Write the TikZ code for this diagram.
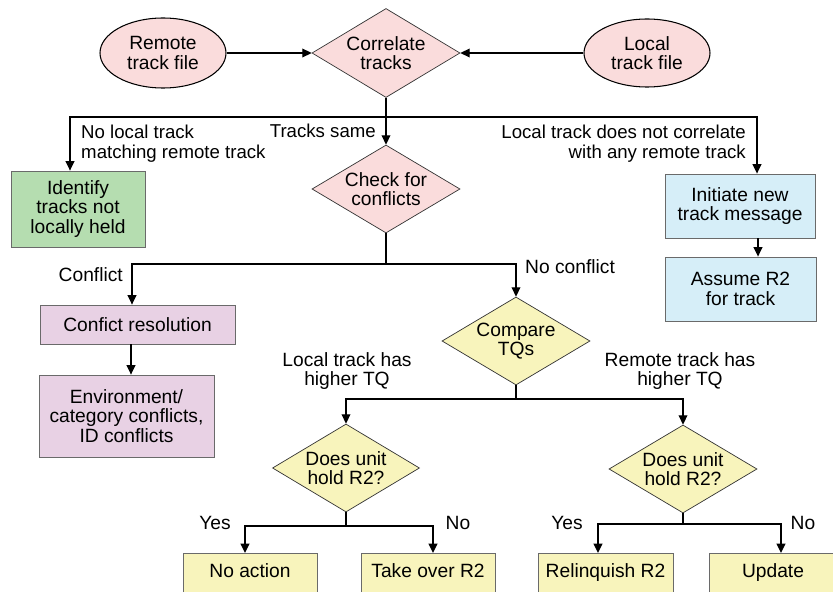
\documentclass[tikz,border=0pt]{standalone}
\usepackage{fontspec}
\setmainfont{Liberation Sans}
\usetikzlibrary{shapes.geometric,arrows.meta}
\definecolor{pinkf}{HTML}{FADCDC}
\definecolor{greenf}{HTML}{B5DDB0}
\definecolor{bluef}{HTML}{D6EEF8}
\definecolor{purplef}{HTML}{E8D1E4}
\definecolor{yellowf}{HTML}{F8F4BC}
\definecolor{edgegray}{HTML}{6A6A6A}
\begin{document}
\begin{tikzpicture}[x=0.03cm,y=-0.03cm,
  every node/.style={font=\fontsize{16.4pt}{16.8pt}\selectfont},
  arr/.style={-{Triangle[length=8pt,width=7.5pt]}, line width=1.1pt},
  ln/.style={line width=1.1pt},
  oval/.style={ellipse, draw=black, line width=0.9pt, fill=pinkf, inner sep=0pt, align=center},
  dia/.style={diamond, draw=black!80, line width=0.6pt, inner sep=0pt, aspect=1.68, align=center, minimum width=4.44cm, minimum height=2.64cm},
  boxn/.style={rectangle, draw=edgegray, line width=0.7pt, inner sep=0pt, align=center},
  lab/.style={inner sep=0pt, font=\fontsize{15.9pt}{16.8pt}\selectfont},
  slab/.style={inner sep=0pt, font=\fontsize{16.4pt}{16.8pt}\selectfont}
]
\useasboundingbox (0,0) rectangle (833,592);
\clip (0,0) rectangle (833,592);

% top row
\node[oval, minimum width=3.78cm, minimum height=2.1cm] (remote) at (163,53) {Remote\\track file};
\node[oval, minimum width=3.78cm, minimum height=2.04cm] (local) at (647,53) {Local\\track file};
\node[dia, fill=pinkf, minimum height=2.67cm] (correlate) at (386,53) {Correlate\\tracks};

% second row
\node[boxn, fill=greenf, minimum width=4.02cm, minimum height=2.28cm] (identify) at (78,209) {Identify\\tracks not\\locally held};
\node[dia, fill=pinkf] (check) at (386,189) {Check for\\conflicts};
\node[boxn, fill=bluef, minimum width=4.5cm, minimum height=1.92cm] (initiate) at (740,206) {Initiate new\\track message};
\node[boxn, fill=bluef, minimum width=4.53cm, minimum height=1.92cm] (assume) at (740.5,289) {Assume R2\\for track};

% conflict side
\node[boxn, fill=purplef, minimum width=5.85cm, minimum height=1.17cm] (resol) at (137.5,324.5) {Confict resolution};
\node[boxn, fill=purplef, minimum width=5.25cm, minimum height=2.46cm] (env) at (126.5,416) {Environment/\\category conflicts,\\ID conflicts};

% TQ comparison
\node[dia, fill=yellowf] (compare) at (516,341) {Compare\\TQs};
\node[dia, fill=yellowf, minimum width=4.41cm] (dleft) at (346,468) {Does unit\\hold R2?};
\node[dia, fill=yellowf] (dright) at (683,469) {Does unit\\hold R2?};

% bottom boxes (run off the lower edge)
\tikzset{bot/.style={boxn, fill=yellowf, anchor=north, text height=0.72cm, text depth=0.75cm}}
\node[bot, minimum width=4.02cm] (noaction) at (250,553) {No action};
\node[bot, minimum width=4.02cm] (takeover) at (428,553) {Take over R2};
\node[bot, minimum width=4.05cm] (relinq) at (605.5,553) {Relinquish R2};
\node[bot, minimum width=3.84cm] (update) at (773,553) {Update};

% junction coordinates
\coordinate (jL) at (70,117);
\coordinate (jR) at (757,117);
\coordinate (jC) at (132,264);
\coordinate (jN) at (516,264);
\coordinate (pp) at (131,0);
\coordinate (bb) at (758,0);
\coordinate (jTL) at (346,399);
\coordinate (jTR) at (683,399);
\coordinate (jYL) at (245,526);
\coordinate (jNL) at (433,526);
\coordinate (jYR) at (598,524);
\coordinate (jNR) at (781,524);

% connectors
\draw[arr] (remote.east) -- (correlate.west);
\draw[arr] (local.west) -- (correlate.east);
\draw[arr] (correlate.south) -- (check.north);
\draw[arr] (correlate.south) |- (jL) -- (identify.north -| jL);
\draw[arr] (correlate.south) |- (jR) -- (initiate.north -| jR);
\draw[arr] (initiate.south -| bb) -- (assume.north -| bb);
\draw[arr] (check.south) |- (jC) -- (resol.north -| jC);
\draw[arr] (check.south) |- (jN) -- (compare.north);
\draw[arr] (resol.south -| pp) -- (env.north -| pp);
\draw[arr] (compare.south) |- (jTL) -- (dleft.north);
\draw[arr] (compare.south) |- (jTR) -- (dright.north);
\draw[arr] (dleft.south) |- (jYL) -- (noaction.north -| jYL);
\draw[arr] (dleft.south) |- (jNL) -- (takeover.north -| jNL);
\draw[arr] (dright.south) |- (jYR) -- (relinq.north -| jYR);
\draw[arr] (dright.south) |- (jNR) -- (update.north -| jNR);

% labels
\node[lab, anchor=west, align=left] (l1) at (81,144) {No local track\\matching remote track};
\node[lab, anchor=east] (l2) at (376,131) {Tracks same};
\node[lab, anchor=east, align=right] (l3) at (746,144) {Local track does not correlate\\with any remote track};
\node[slab, anchor=east] (l4) at (123,275) {Conflict};
\node[slab, anchor=west] (l5) at (525,267) {No conflict};
\node[slab, align=center] (l6) at (347,371) {Local track has\\higher TQ};
\node[slab, align=center] (l7) at (680,371) {Remote track has\\higher TQ};
\node[slab] (l8) at (215,523) {Yes};
\node[slab] (l9) at (458,523) {No};
\node[slab] (l10) at (567,523) {Yes};
\node[slab] (l11) at (803,523) {No};
\end{tikzpicture}
\end{document}
